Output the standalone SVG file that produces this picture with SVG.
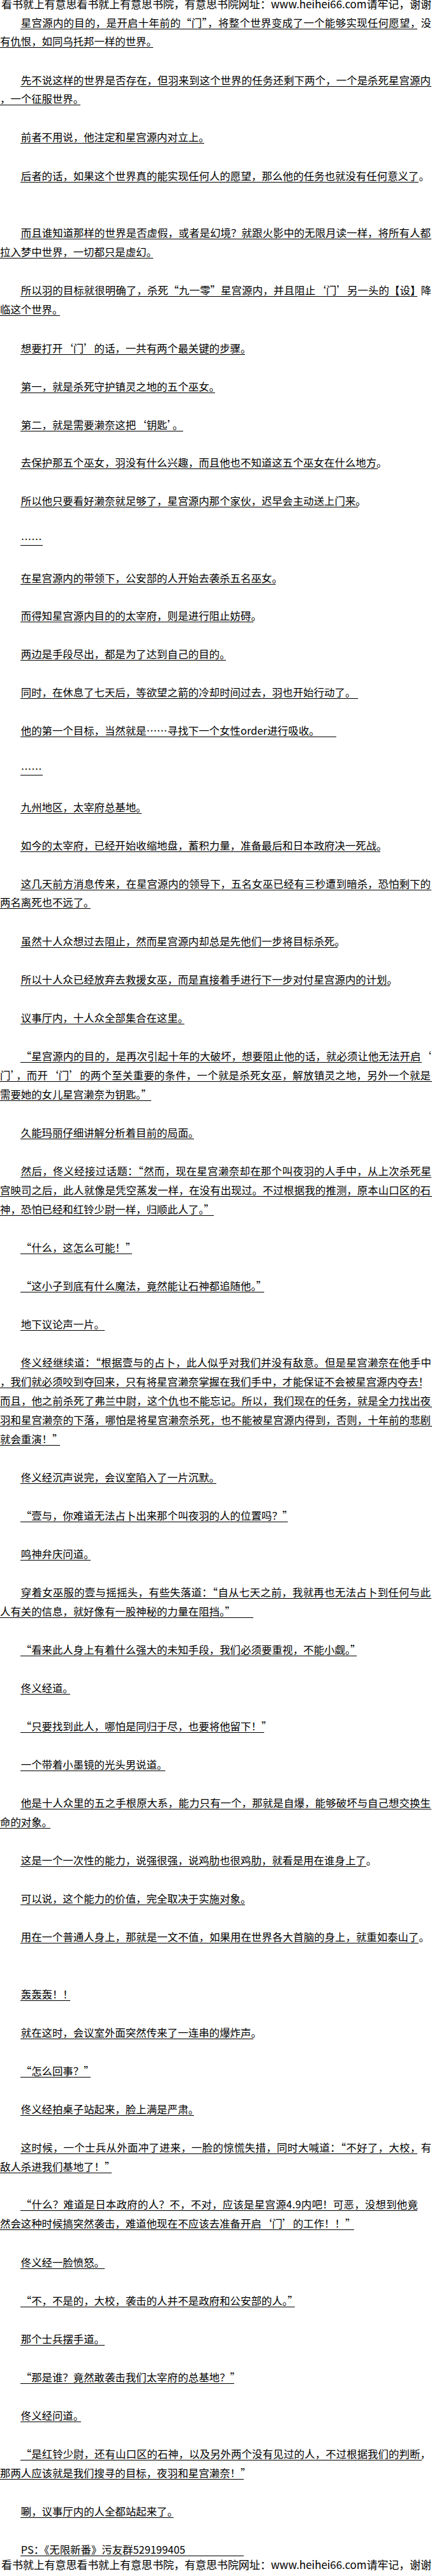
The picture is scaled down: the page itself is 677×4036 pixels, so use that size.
<svg xmlns="http://www.w3.org/2000/svg" width="677" height="4036" viewBox="0 0 677 4036">
<style>
.t{font-family:"Noto Sans CJK SC","Noto Sans CJK JP",sans-serif;font-size:16.4px;fill:#000}
.h{font-family:"Noto Sans CJK SC","Noto Sans CJK JP",sans-serif;font-size:17px;fill:#000}
.u line{stroke:#000;stroke-width:1;shape-rendering:crispEdges}
</style>
<rect width="677" height="4036" fill="#fff"/>
<g id="header-top"><text class="h" x="2" y="13" textLength="674" lengthAdjust="spacing">看书就上有意思看书就上有意思书院，有意思书院网址：www.heihei66.com请牢记，谢谢</text></g>
<g id="body" class="t">
<text x="32.8" y="42" textLength="643" lengthAdjust="spacing">星宫源内的目的，是开启十年前的“门”，将整个世界变成了一个能够实现任何愿望，没</text>
<text x="0" y="71">有仇恨，如同乌托邦一样的世界。</text>
<text x="32.8" y="132" textLength="642" lengthAdjust="spacing">先不说这样的世界是否存在，但羽来到这个世界的任务还剩下两个，一个是杀死星宫源内</text>
<text x="0" y="161">，一个征服世界。</text>
<text x="32.8" y="221">前者不用说，他注定和星宫源内对立上。</text>
<text x="32.8" y="282" textLength="640" lengthAdjust="spacing">后者的话，如果这个世界真的能实现任何人的愿望，那么他的任务也就没有任何意义了。</text>
<text x="32.8" y="371" textLength="642" lengthAdjust="spacing">而且谁知道那样的世界是否虚假，或者是幻境？就跟火影中的无限月读一样，将所有人都</text>
<text x="0" y="401">拉入梦中世界，一切都只是虚幻。</text>
<text x="32.8" y="461" textLength="643" lengthAdjust="spacing">所以羽的目标就很明确了，杀死“九一零”星宫源内，并且阻止‘门’另一头的【设】降</text>
<text x="0" y="491">临这个世界。</text>
<text x="32.8" y="552">想要打开‘门’的话，一共有两个最关键的步骤。</text>
<text x="32.8" y="612">第一，就是杀死守护镇灵之地的五个巫女。</text>
<text x="32.8" y="672">第二，就是需要濑奈这把‘钥匙’。</text>
<text x="32.8" y="731">去保护那五个巫女，羽没有什么兴趣，而且他也不知道这五个巫女在什么地方。</text>
<text x="32.8" y="791">所以他只要看好濑奈就足够了，星宫源内那个家伙，迟早会主动送上门来。</text>
<text x="32.8" y="851">……</text>
<text x="32.8" y="912">在星宫源内的带领下，公安部的人开始去袭杀五名巫女。</text>
<text x="32.8" y="971">而得知星宫源内目的的太宰府，则是进行阻止妨碍。</text>
<text x="32.8" y="1031">两边是手段尽出，都是为了达到自己的目的。</text>
<text x="32.8" y="1091">同时，在休息了七天后，等欲望之箭的冷却时间过去，羽也开始行动了。</text>
<text x="32.8" y="1151">他的第一个目标，当然就是……寻找下一个女性order进行吸收。</text>
<text x="32.8" y="1211">……</text>
<text x="32.8" y="1271">九州地区，太宰府总基地。</text>
<text x="32.8" y="1331">如今的太宰府，已经开始收缩地盘，蓄积力量，准备最后和日本政府决一死战。</text>
<text x="32.8" y="1391" textLength="642" lengthAdjust="spacing">这几天前方消息传来，在星宫源内的领导下，五名女巫已经有三秒遭到暗杀，恐怕剩下的</text>
<text x="0" y="1420">两名离死也不远了。</text>
<text x="32.8" y="1481">虽然十人众想过去阻止，然而星宫源内却总是先他们一步将目标杀死。</text>
<text x="32.8" y="1541">所以十人众已经放弃去救援女巫，而是直接着手进行下一步对付星宫源内的计划。</text>
<text x="32.8" y="1601">议事厅内，十人众全部集合在这里。</text>
<text x="32.8" y="1661" textLength="643" lengthAdjust="spacing">“星宫源内的目的，是再次引起十年的大破坏，想要阻止他的话，就必须让他无法开启‘</text>
<text x="0" y="1691" textLength="675" lengthAdjust="spacing">门’，而开‘门’的两个至关重要的条件，一个就是杀死女巫，解放镇灵之地，另外一个就是</text>
<text x="0" y="1721">需要她的女儿星宫濑奈为钥匙。”</text>
<text x="32.8" y="1781">久能玛丽仔细讲解分析着目前的局面。</text>
<text x="32.8" y="1841" textLength="643" lengthAdjust="spacing">然后，佟义经接过话题：“然而，现在星宫濑奈却在那个叫夜羽的人手中，从上次杀死星</text>
<text x="0" y="1871" textLength="675" lengthAdjust="spacing">宫映司之后，此人就像是凭空蒸发一样，在没有出现过。不过根据我的推测，原本山口区的石</text>
<text x="0" y="1901">神，恐怕已经和红铃少尉一样，归顺此人了。”</text>
<text x="32.8" y="1961">“什么，这怎么可能！”</text>
<text x="32.8" y="2021">“这小子到底有什么魔法，竟然能让石神都追随他。”</text>
<text x="32.8" y="2081">地下议论声一片。</text>
<text x="32.8" y="2141" textLength="643" lengthAdjust="spacing">佟义经继续道：“根据壹与的占卜，此人似乎对我们并没有敌意。但是星宫濑奈在他手中</text>
<text x="0" y="2171" textLength="672" lengthAdjust="spacing">，我们就必须咬到夺回来，只有将星宫濑奈掌握在我们手中，才能保证不会被星宫源内夺去！</text>
<text x="0" y="2201" textLength="675" lengthAdjust="spacing">而且，他之前杀死了弗兰中尉，这个仇也不能忘记。所以，我们现在的任务，就是全力找出夜</text>
<text x="0" y="2231" textLength="675" lengthAdjust="spacing">羽和星宫濑奈的下落，哪怕是将星宫濑奈杀死，也不能被星宫源内得到，否则，十年前的悲剧</text>
<text x="0" y="2261">就会重演！”</text>
<text x="32.8" y="2321">佟义经沉声说完，会议室陷入了一片沉默。</text>
<text x="32.8" y="2381">“壹与，你难道无法占卜出来那个叫夜羽的人的位置吗？”</text>
<text x="32.8" y="2441">鸣神弁庆问道。</text>
<text x="32.8" y="2501" textLength="642" lengthAdjust="spacing">穿着女巫服的壹与摇摇头，有些失落道：“自从七天之前，我就再也无法占卜到任何与此</text>
<text x="0" y="2531">人有关的信息，就好像有一股神秘的力量在阻挡。”</text>
<text x="32.8" y="2591">“看来此人身上有着什么强大的未知手段，我们必须要重视，不能小觑。”</text>
<text x="32.8" y="2651">佟义经道。</text>
<text x="32.8" y="2711">“只要找到此人，哪怕是同归于尽，也要将他留下！”</text>
<text x="32.8" y="2771">一个带着小墨镜的光头男说道。</text>
<text x="32.8" y="2831" textLength="642" lengthAdjust="spacing">他是十人众里的五之手根原大系，能力只有一个，那就是自爆，能够破坏与自己想交换生</text>
<text x="0" y="2861">命的对象。</text>
<text x="32.8" y="2921">这是一个一次性的能力，说强很强，说鸡肋也很鸡肋，就看是用在谁身上了。</text>
<text x="32.8" y="2981">可以说，这个能力的价值，完全取决于实施对象。</text>
<text x="32.8" y="3041" textLength="640" lengthAdjust="spacing">用在一个普通人身上，那就是一文不值，如果用在世界各大首脑的身上，就重如泰山了。</text>
<text x="32.8" y="3131">轰轰轰！！</text>
<text x="32.8" y="3191">就在这时，会议室外面突然传来了一连串的爆炸声。</text>
<text x="32.8" y="3251">“怎么回事？”</text>
<text x="32.8" y="3311">佟义经拍桌子站起来，脸上满是严肃。</text>
<text x="32.8" y="3371" textLength="643" lengthAdjust="spacing">这时候，一个士兵从外面冲了进来，一脸的惊慌失措，同时大喊道：“不好了，大校，有</text>
<text x="0" y="3401">敌人杀进我们基地了！”</text>
<text x="32.8" y="3460" textLength="622" lengthAdjust="spacing">“什么？难道是日本政府的人？不，不对，应该是星宫源4.9内吧！可恶，没想到他竟</text>
<text x="0" y="3490">然会这种时候搞突然袭击，难道他现在不应该去准备开启‘门’的工作！！”</text>
<text x="32.8" y="3551">佟义经一脸愤怒。</text>
<text x="32.8" y="3611">“不，不是的，大校，袭击的人并不是政府和公安部的人。”</text>
<text x="32.8" y="3671">那个士兵摆手道。</text>
<text x="32.8" y="3731">“那是谁？竟然敢袭击我们太宰府的总基地？”</text>
<text x="32.8" y="3791">佟义经问道。</text>
<text x="32.8" y="3851" textLength="642" lengthAdjust="spacing">“是红铃少尉，还有山口区的石神，以及另外两个没有见过的人，不过根据我们的判断，</text>
<text x="0" y="3881">那两人应该就是我们搜寻的目标，夜羽和星宫濑奈！”</text>
<text x="32.8" y="3941">唰，议事厅内的人全都站起来了。</text>
<text x="32.8" y="4001">PS：《无限新番》污友群529199405</text>
</g>
<g id="header-bottom"><text class="h" x="2" y="4025" textLength="674" lengthAdjust="spacing">看书就上有意思看书就上有意思书院，有意思书院网址：www.heihei66.com请牢记，谢谢</text></g>
<g id="underlines" class="u">
<line x1="32" y1="45.5" x2="654" y2="45.5"/>
<line x1="0" y1="74.5" x2="240" y2="74.5"/>
<line x1="32" y1="135.5" x2="676" y2="135.5"/>
<line x1="0" y1="164.5" x2="126" y2="164.5"/>
<line x1="32" y1="224.5" x2="320" y2="224.5"/>
<line x1="32" y1="285.5" x2="656" y2="285.5"/>
<line x1="32" y1="374.5" x2="676" y2="374.5"/>
<line x1="0" y1="404.5" x2="240" y2="404.5"/>
<line x1="32" y1="464.5" x2="654" y2="464.5"/>
<line x1="0" y1="494.5" x2="94" y2="494.5"/>
<line x1="32" y1="555.5" x2="384" y2="555.5"/>
<line x1="32" y1="615.5" x2="337" y2="615.5"/>
<line x1="32" y1="675.5" x2="287" y2="675.5"/>
<line x1="32" y1="734.5" x2="592" y2="734.5"/>
<line x1="32" y1="794.5" x2="561" y2="794.5"/>
<line x1="32" y1="854.5" x2="67" y2="854.5"/>
<line x1="32" y1="915.5" x2="432" y2="915.5"/>
<line x1="32" y1="974.5" x2="397" y2="974.5"/>
<line x1="32" y1="1034.5" x2="354" y2="1034.5"/>
<line x1="32" y1="1094.5" x2="561" y2="1094.5"/>
<line x1="32" y1="1154.5" x2="527" y2="1154.5"/>
<line x1="32" y1="1214.5" x2="67" y2="1214.5"/>
<line x1="32" y1="1274.5" x2="222" y2="1274.5"/>
<line x1="32" y1="1334.5" x2="596" y2="1334.5"/>
<line x1="32" y1="1394.5" x2="676" y2="1394.5"/>
<line x1="0" y1="1423.5" x2="142" y2="1423.5"/>
<line x1="32" y1="1484.5" x2="529" y2="1484.5"/>
<line x1="32" y1="1544.5" x2="611" y2="1544.5"/>
<line x1="32" y1="1604.5" x2="289" y2="1604.5"/>
<line x1="32" y1="1664.5" x2="661" y2="1664.5"/>
<line x1="0" y1="1694.5" x2="677" y2="1694.5"/>
<line x1="0" y1="1724.5" x2="237" y2="1724.5"/>
<line x1="32" y1="1784.5" x2="304" y2="1784.5"/>
<line x1="32" y1="1844.5" x2="676" y2="1844.5"/>
<line x1="0" y1="1874.5" x2="677" y2="1874.5"/>
<line x1="0" y1="1904.5" x2="335" y2="1904.5"/>
<line x1="32" y1="1964.5" x2="207" y2="1964.5"/>
<line x1="32" y1="2024.5" x2="414" y2="2024.5"/>
<line x1="32" y1="2084.5" x2="164" y2="2084.5"/>
<line x1="32" y1="2144.5" x2="654" y2="2144.5"/>
<line x1="0" y1="2174.5" x2="661" y2="2174.5"/>
<line x1="0" y1="2204.5" x2="677" y2="2204.5"/>
<line x1="0" y1="2234.5" x2="677" y2="2234.5"/>
<line x1="0" y1="2264.5" x2="94" y2="2264.5"/>
<line x1="32" y1="2324.5" x2="339" y2="2324.5"/>
<line x1="32" y1="2384.5" x2="451" y2="2384.5"/>
<line x1="32" y1="2444.5" x2="142" y2="2444.5"/>
<line x1="32" y1="2504.5" x2="676" y2="2504.5"/>
<line x1="0" y1="2534.5" x2="397" y2="2534.5"/>
<line x1="32" y1="2594.5" x2="559" y2="2594.5"/>
<line x1="32" y1="2654.5" x2="110" y2="2654.5"/>
<line x1="32" y1="2714.5" x2="414" y2="2714.5"/>
<line x1="32" y1="2774.5" x2="259" y2="2774.5"/>
<line x1="32" y1="2834.5" x2="676" y2="2834.5"/>
<line x1="0" y1="2864.5" x2="79" y2="2864.5"/>
<line x1="32" y1="2924.5" x2="574" y2="2924.5"/>
<line x1="32" y1="2984.5" x2="384" y2="2984.5"/>
<line x1="32" y1="3044.5" x2="656" y2="3044.5"/>
<line x1="32" y1="3134.5" x2="110" y2="3134.5"/>
<line x1="32" y1="3194.5" x2="397" y2="3194.5"/>
<line x1="32" y1="3254.5" x2="142" y2="3254.5"/>
<line x1="32" y1="3314.5" x2="304" y2="3314.5"/>
<line x1="32" y1="3374.5" x2="654" y2="3374.5"/>
<line x1="0" y1="3404.5" x2="175" y2="3404.5"/>
<line x1="32" y1="3463.5" x2="654" y2="3463.5"/>
<line x1="0" y1="3493.5" x2="555" y2="3493.5"/>
<line x1="32" y1="3554.5" x2="164" y2="3554.5"/>
<line x1="32" y1="3614.5" x2="462" y2="3614.5"/>
<line x1="32" y1="3674.5" x2="164" y2="3674.5"/>
<line x1="32" y1="3734.5" x2="367" y2="3734.5"/>
<line x1="32" y1="3794.5" x2="127" y2="3794.5"/>
<line x1="32" y1="3854.5" x2="661" y2="3854.5"/>
<line x1="0" y1="3884.5" x2="382" y2="3884.5"/>
<line x1="32" y1="3944.5" x2="272" y2="3944.5"/>
<line x1="32" y1="4004.5" x2="382" y2="4004.5"/>
</g>
</svg>
